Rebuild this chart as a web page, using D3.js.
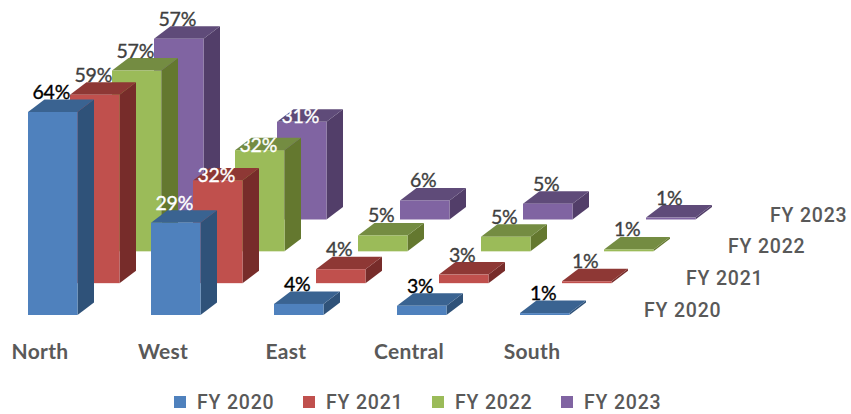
<!DOCTYPE html>
<html><head><meta charset="utf-8">
<script src="https://cdn.jsdelivr.net/npm/d3@7"></script>
<style>html,body{margin:0;padding:0;background:#fff}svg{display:block}text{font-family:Roboto,sans-serif}</style>
</head><body><svg id="c" width="851" height="414"></svg>
<script>
const categories = ["North","West","East","Central","South"];
const seriesNames = ["FY 2020","FY 2021","FY 2022","FY 2023"];
const fy2020 = [64,29.1,3.5,2.9,0.6];
const fy2021 = [59.4,32.4,4.4,2.7,0.6];
const fy2022 = [57,31.9,5,4.6,0.6];
const fy2023 = [57,30.8,6,5,0.6];
const frontColors = ["#4f81bd","#c0504d","#9bbb59","#8064a2"];
const topColors = ["#3a6391","#8e3835","#748c42","#5f4b79"];
const sideColors = ["#2f5279","#772c2a","#64782f","#523e69"];
const seriesValues = [fy2020,fy2021,fy2022,fy2023];

const W=49.5, DX=16.5, DY=12.5;
const svg=d3.select("#c");
const x=d3.scalePoint().domain(categories).range([28,520]);
const sx=d3.scalePoint().domain(seriesNames).range([0,126]);
const base=d3.scalePoint().domain(seriesNames).range([315,219.5]);
const h=d3.scaleLinear().domain([0,64]).range([0,203]);

const marks=[];
seriesNames.forEach((s,i)=>categories.forEach((c,j)=>marks.push({s,i,c,j,v:seriesValues[i][j]})));
const geo=m=>{const l=x(m.c)+sx(m.s),b=base(m.s),t=b-h(m.v);return {l,r:l+W,b,t};};
const pts=a=>a.map(p=>p.join(",")).join(" ");

const bars=svg.append("g").selectAll("g").data(marks.slice().sort((a,b)=>b.i-a.i||a.j-b.j)).join("g");
bars.append("polygon").attr("fill",d=>sideColors[d.i]).attr("points",d=>{const g=geo(d);return pts([[g.r,g.t],[g.r+DX,g.t-DY],[g.r+DX,g.b-DY],[g.r,g.b]]);});
bars.append("polygon").attr("fill",d=>topColors[d.i]).attr("points",d=>{const g=geo(d);return pts([[g.l,g.t],[g.l+DX,g.t-DY],[g.r+DX,g.t-DY],[g.r,g.t]]);});
bars.append("rect").attr("fill",d=>frontColors[d.i]).attr("x",d=>geo(d).l).attr("y",d=>geo(d).t).attr("width",W).attr("height",d=>geo(d).b-geo(d).t);

const labelFill=d=>d.c==="West"?"#fff":(d.i===0?"#000":"#404040");
svg.append("g").selectAll("text").data(marks).join("text")
 .attr("x",d=>geo(d).l+W/2-1.5).attr("y",d=>geo(d).t-DY+(d.c==="West"&&d.i>0?14.5:0)-0.5)
 .attr("text-anchor","middle").attr("font-size",19.5).attr("letter-spacing",-0.2)
 .style("font-family","Lato,sans-serif").attr("fill",labelFill).attr("stroke",labelFill).attr("stroke-width",0.35)
 .text(d=>Math.round(d.v)+"%");

svg.append("g").selectAll("text").data(categories).join("text")
 .attr("x",d=>x(d)+12).attr("y",359).attr("text-anchor","middle")
 .attr("font-size",21).attr("font-weight",700).attr("letter-spacing",0.3).attr("fill","#595959").style("font-family","Lato,sans-serif").text(d=>d);

svg.append("g").selectAll("text").data(seriesNames).join("text")
 .attr("x",d=>644+sx(d)).attr("y",d=>base(d)+2).attr("font-size",19.5).attr("font-weight",500)
 .attr("letter-spacing",0.8).attr("fill","#595959").text(d=>d);

const lg=d3.scalePoint().domain(seriesNames).range([174,561]);
const items=svg.append("g").selectAll("g").data(seriesNames).join("g").attr("transform",d=>`translate(${lg(d)},396)`);
items.append("rect").attr("width",12).attr("height",12).attr("fill",(d,i)=>frontColors[i]);
items.append("text").attr("x",23).attr("y",13).attr("font-size",19.5).attr("font-weight",500).attr("letter-spacing",0.8).attr("fill","#595959").text(d=>d);
</script></body></html>
